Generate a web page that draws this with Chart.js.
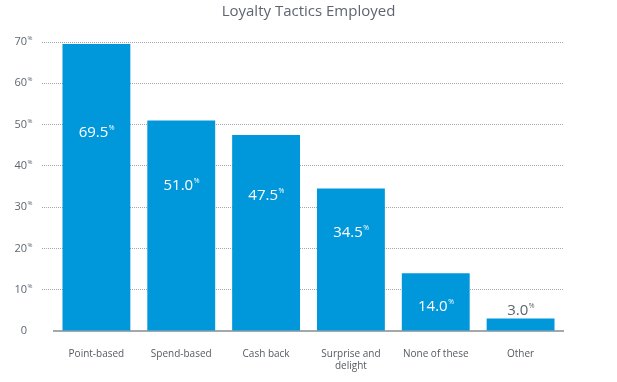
<!DOCTYPE html>
<html><head><meta charset="utf-8">
<script src="https://cdn.jsdelivr.net/npm/chart.js@4"></script>
<style>html,body{margin:0;padding:0;background:#fff}#wrap{width:617px;height:382px}</style>
</head><body><div id="wrap"><canvas id="c" width="617" height="382"></canvas></div>
<script>
const title = 'Loyalty Tactics Employed';
const categories = [['Point-based'], ['Spend-based'], ['Cash back'], ['Surprise and', 'delight'], ['None of these'], ['Other']];
const values = [69.5, 51.0, 47.5, 34.5, 14.0, 3.0];
const yTicks = [0, 10, 20, 30, 40, 50, 60, 70];

const FONT = '"Open Sans", "Noto Sans", sans-serif';
const BAR = '#0098da';
const GRAY = '#5d6670';
const GRID = '#a2a8ae';

function drawSup(ctx, x, y, main, sup, mainSize, supSize, color, align) {
  ctx.save();
  ctx.fillStyle = color;
  ctx.textBaseline = 'middle';
  ctx.font = mainSize + 'px ' + FONT;
  const w1 = ctx.measureText(main).width;
  ctx.font = supSize + 'px ' + FONT;
  const w2 = sup ? ctx.measureText(sup).width : 0;
  let start;
  if (align === 'right') start = x - w1;
  else start = x - (w1 + w2) / 2;
  ctx.textAlign = 'left';
  ctx.font = mainSize + 'px ' + FONT;
  ctx.fillText(main, start, y);
  if (sup) {
    ctx.font = supSize + 'px ' + FONT;
    ctx.fillText(sup, start + w1 + 0.5, y - mainSize * 0.32);
  }
  ctx.restore();
}

const labelsPlugin = {
  id: 'labelsPlugin',
  afterDraw(chart) {
    const ctx = chart.ctx;
    const ys = chart.scales.y;
    yTicks.forEach(t => {
      const py = ys.getPixelForValue(t);
      drawSup(ctx, 27, py, String(t), t === 0 ? '' : '%', 11, 6, GRAY, 'right');
    });
    const meta = chart.getDatasetMeta(0);
    meta.data.forEach((bar, i) => {
      const v = values[i];
      const h = bar.base - bar.y;
      const txt = v.toFixed(1);
      if (h > 60) {
        const py = ys.getPixelForValue(v * 0.69);
        drawSup(ctx, bar.x, py, txt, '%', 15, 7, '#ffffff', 'center');
      } else if (h > 25) {
        const py = ys.getPixelForValue(v * 0.42);
        drawSup(ctx, bar.x, py, txt, '%', 15, 7, '#ffffff', 'center');
      } else {
        drawSup(ctx, bar.x, bar.y - 8, txt, '%', 15, 7, GRAY, 'center');
      }
    });
  }
};

new Chart(document.getElementById('c'), {
  type: 'bar',
  data: {
    labels: categories,
    datasets: [{ data: values, backgroundColor: BAR, borderWidth: 0,
      categoryPercentage: 0.8, barPercentage: 1.0 }]
  },
  options: {
    responsive: false,
    animation: false,
    devicePixelRatio: 1,
    layout: { padding: 0 },
    plugins: {
      legend: { display: false },
      tooltip: { enabled: false },
      title: { display: true, text: title, color: GRAY,
        font: { family: FONT, size: 15, weight: 'normal', lineHeight: 1.2 },
        padding: { top: 3, bottom: 21 } }
    },
    scales: {
      x: {
        grid: { display: false },
        border: { display: true, color: '#a3a8ad', width: 2 },
        ticks: { color: '#555b61', font: { family: FONT, size: 10 }, padding: 9, maxRotation: 0, autoSkip: false },
        afterFit(s) { s.height = 51; }
      },
      y: {
        min: 0, max: 70,
        afterBuildTicks(s) { s.ticks = yTicks.map(v => ({ value: v })); },
        ticks: { display: false },
        grid: {
          color: ctx => ctx.tick && ctx.tick.value === 0 ? 'rgba(0,0,0,0)' : GRID,
          lineWidth: 1,
          tickLength: 12,
          drawTicks: true,
          tickColor: ctx => ctx.tick && ctx.tick.value === 0 ? 'rgba(0,0,0,0)' : GRID,
          tickBorderDash: [1, 1]
        },
        border: { display: false, dash: [1, 1] },
        afterFit(s) { s.width = 54; }
      },
      yRight: {
        position: 'right',
        min: 0, max: 70,
        display: true,
        grid: { display: false },
        border: { display: false },
        ticks: { display: false },
        afterFit(s) { s.width = 54; }
      }
    }
  },
  plugins: [labelsPlugin]
});
</script>
</body></html>
